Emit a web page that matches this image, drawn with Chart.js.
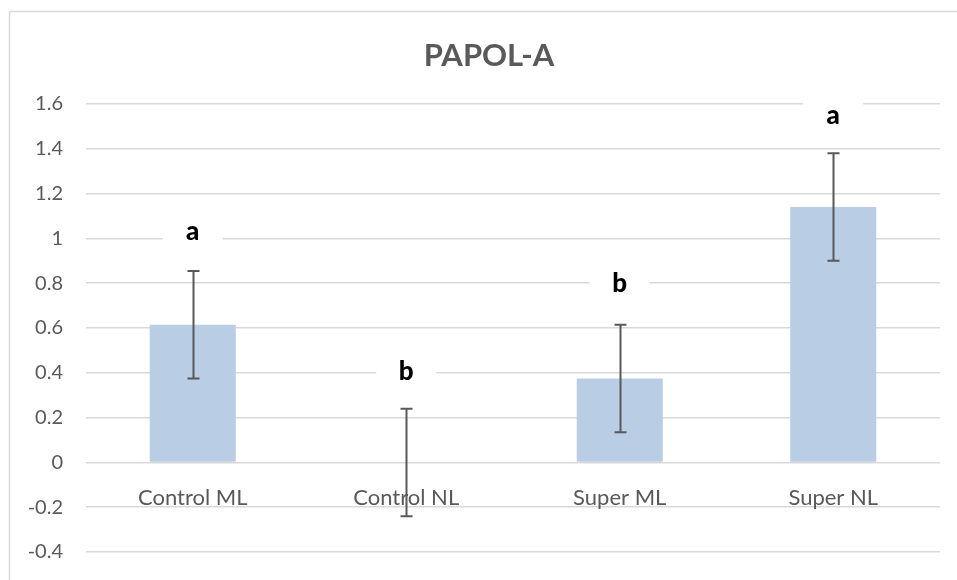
<!DOCTYPE html>
<html>
<head>
<meta charset="utf-8">
<script src="https://cdn.jsdelivr.net/npm/chart.js@4/dist/chart.umd.min.js"></script>
<style>
  html, body { margin: 0; padding: 0; background: #ffffff; }
  #wrap { position: relative; width: 957px; height: 580px; }
</style>
</head>
<body>
<div id="wrap"><canvas id="c" width="957" height="580"></canvas></div>
<script>
const chartTitle = 'PAPOL-A';
const categories = ['Control ML', 'Control NL', 'Super ML', 'Super NL'];
const means = [0.615, 0.0, 0.375, 1.14];
const errors = [0.24, 0.24, 0.24, 0.24];
const letters = ['a', 'b', 'b', 'a'];
const letterValues = [1.03, 0.405, 0.80, 1.55];
const yTicks = [-0.4, -0.2, 0, 0.2, 0.4, 0.6, 0.8, 1, 1.2, 1.4, 1.6];

const FONT = 'Lato, "Open Sans", sans-serif';

const decor = {
  id: 'decor',
  beforeDraw(chart) {
    const ctx = chart.ctx;
    ctx.save();
    ctx.fillStyle = '#ffffff';
    ctx.fillRect(0, 0, chart.width, chart.height);
    ctx.strokeStyle = '#d9d9d9';
    ctx.lineWidth = 1.5;
    ctx.beginPath();
    ctx.moveTo(9.5, chart.height);
    ctx.lineTo(9.5, 11.5);
    ctx.lineTo(chart.width, 11.5);
    ctx.stroke();
    ctx.restore();
  },
  afterDatasetsDraw(chart) {
    const ctx = chart.ctx;
    const x = chart.scales.x, y = chart.scales.y;
    ctx.save();
    // error bars
    ctx.strokeStyle = '#595959';
    ctx.lineWidth = 2;
    means.forEach((m, i) => {
      const cx = Math.round(x.getPixelForValue(i)) + 0.5;
      const top = y.getPixelForValue(m + errors[i]);
      const bot = y.getPixelForValue(m - errors[i]);
      ctx.beginPath();
      ctx.moveTo(cx, top); ctx.lineTo(cx, bot);
      ctx.moveTo(cx - 6, top); ctx.lineTo(cx + 6, top);
      ctx.moveTo(cx - 6, bot); ctx.lineTo(cx + 6, bot);
      ctx.stroke();
    });
    // significance letters with white boxes
    ctx.font = '900 26px ' + FONT;
    ctx.textAlign = 'center';
    ctx.textBaseline = 'middle';
    letters.forEach((t, i) => {
      const cx = x.getPixelForValue(i);
      const cy = y.getPixelForValue(letterValues[i]);
      ctx.fillStyle = '#ffffff';
      ctx.fillRect(cx - 30, cy - 15, 60, 30);
      ctx.fillStyle = '#000000';
      ctx.fillText(t, cx, cy);
    });
    // title
    ctx.font = 'bold 31px ' + FONT;
    ctx.fillStyle = '#595959';
    ctx.fillText(chartTitle, 489, 56);
    ctx.restore();
  }
};

new Chart(document.getElementById('c'), {
  type: 'bar',
  data: {
    labels: categories,
    datasets: [{
      data: means,
      backgroundColor: '#b9cde5',
      borderWidth: 0,
      barPercentage: 0.403,
      categoryPercentage: 1.0
    }]
  },
  options: {
    responsive: false,
    animation: false,
    devicePixelRatio: 1,
    layout: { padding: { left: 0, right: 17, top: 104, bottom: 28 } },
    plugins: { legend: { display: false }, tooltip: { enabled: false }, title: { display: false } },
    scales: {
      x: {
        position: { y: 0 },
        afterFit(scale) { scale.height = 0; },
        grid: { display: false, drawTicks: false },
        border: { display: false },
        ticks: {
          color: '#595959',
          font: { family: FONT, size: 22 },
          padding: 22,
          maxRotation: 0,
          autoSkip: false
        }
      },
      y: {
        min: -0.4,
        max: 1.6,
        afterBuildTicks(scale) { scale.ticks = yTicks.map(v => ({ value: v })); },
        afterFit(scale) { scale.width = 86; scale.paddingTop = 0; scale.paddingBottom = 0; },
        grid: { color: '#d9d9d9', lineWidth: 1.5, drawTicks: false },
        border: { display: false },
        ticks: {
          color: '#595959',
          font: { family: FONT, size: 20 },
          padding: 23,
          callback: v => String(Math.round(v * 10) / 10)
        }
      }
    }
  },
  plugins: [decor]
});
</script>
</body>
</html>
